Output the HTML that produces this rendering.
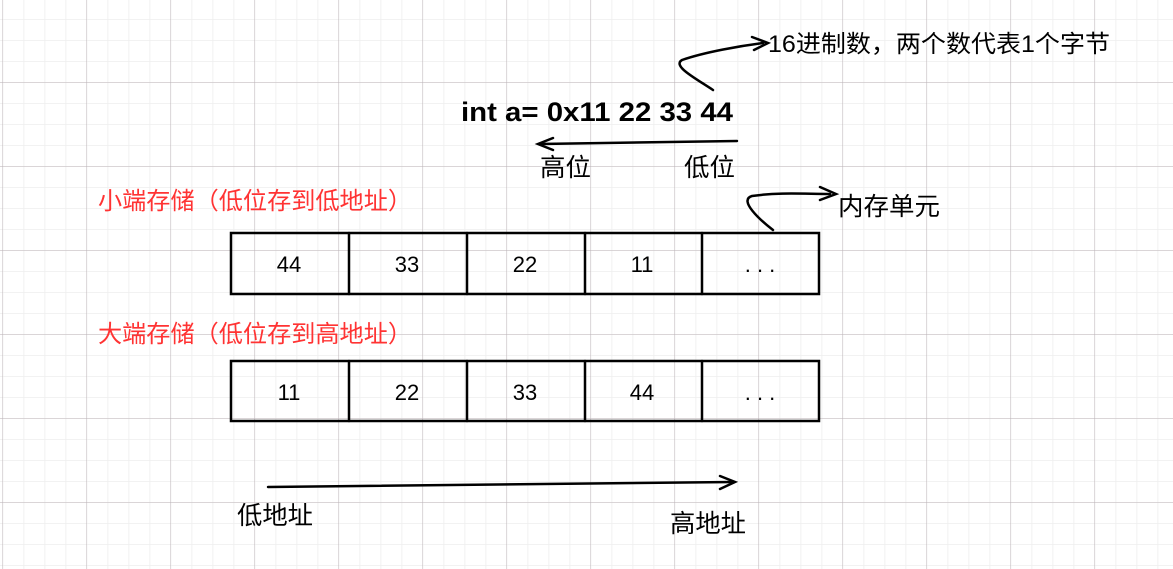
<!DOCTYPE html>
<html><head><meta charset="utf-8"><style>
html,body{margin:0;padding:0;background:#fff;}
svg{display:block}
text{font-family:"Liberation Sans","Noto Sans CJK SC",sans-serif;}
</style></head><body>
<svg width="1173" height="569" xmlns="http://www.w3.org/2000/svg">
<defs>
<pattern id="minor" x="2.5" y="-2" width="21" height="21" patternUnits="userSpaceOnUse">
<path d="M0 0V21M0 0H21" stroke="#eeeeee" stroke-width="1.5" fill="none"/>
</pattern>
<pattern id="major" x="2.5" y="-2" width="84" height="84" patternUnits="userSpaceOnUse">
<path d="M0 0V84M0 0H84" stroke="#bdb4b8" stroke-width="1" fill="none"/>
</pattern>
</defs>
<rect width="1173" height="569" fill="url(#minor)"/>
<rect width="1173" height="569" fill="url(#major)"/>

<g stroke="#000" stroke-width="2.5" fill="none" stroke-linecap="round">
<path d="M713 90 C695 78,672 66,682 60 C705 52,740 46,763 43"/>
<path d="M752 37 L768 43 L754 50"/>
<path d="M737 141 L540 144"/>
<path d="M553 138 L538 144 L553 150"/>
<path d="M773 230 C760 220,738 200,752 196 C780 192,805 194,830 194"/>
<path d="M820 187 L836 194 L820 200"/>
<rect x="231" y="233" width="588" height="61"/>
<path d="M349 233V294M467 233V294M585 233V294M702 233V294"/>
<rect x="231" y="361" width="588" height="60"/>
<path d="M349 361V421M467 361V421M585 361V421M702 361V421"/>
<path d="M268 487 L733 482"/>
<path d="M720 476 L735 482 L720 489"/>
</g>

<g font-size="24" fill="#000">
<text x="768" y="52" textLength="342" lengthAdjust="spacingAndGlyphs">16进制数，两个数代表1个字节</text>
<text x="461" y="121" font-weight="bold" font-size="27" textLength="272" lengthAdjust="spacingAndGlyphs">int a= 0x11 22 33 44</text>
<text x="540" y="176" font-size="25" textLength="51" lengthAdjust="spacingAndGlyphs">高位</text>
<text x="684" y="176" font-size="25" textLength="51" lengthAdjust="spacingAndGlyphs">低位</text>
<text x="838" y="215" font-size="25" textLength="102" lengthAdjust="spacingAndGlyphs">内存单元</text>
<text x="98" y="209" fill="#ff3333" textLength="314" lengthAdjust="spacingAndGlyphs">小端存储（低位存到低地址）</text>
<text x="98" y="342" fill="#ff3333" textLength="314" lengthAdjust="spacingAndGlyphs">大端存储（低位存到高地址）</text>
<text x="237" y="524" font-size="25" textLength="76" lengthAdjust="spacingAndGlyphs">低地址</text>
<text x="670" y="532" font-size="25" textLength="76" lengthAdjust="spacingAndGlyphs">高地址</text>
</g>
<g font-size="22" fill="#000" text-anchor="middle">
<text x="289" y="272">44</text><text x="407" y="272">33</text><text x="525" y="272">22</text><text x="642" y="272">11</text><text x="760" y="272">. . .</text>
<text x="289" y="400">11</text><text x="407" y="400">22</text><text x="525" y="400">33</text><text x="642" y="400">44</text><text x="760" y="400">. . .</text>
</g>
</svg>
</body></html>
